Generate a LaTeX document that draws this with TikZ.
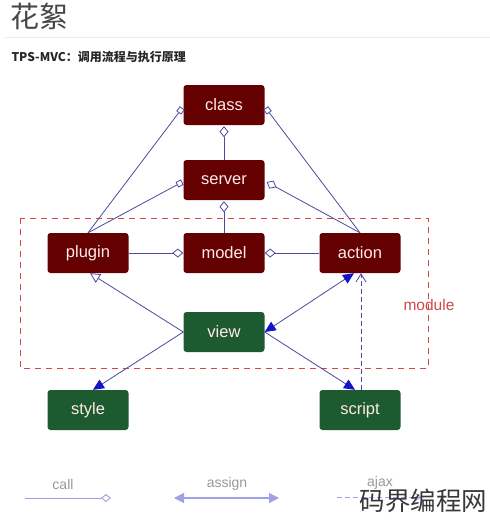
\documentclass[tikz,border=0pt]{standalone}
\usepackage{fontspec}
\setmainfont{Liberation Sans}
\newfontfamily\cjk{Noto Sans CJK SC}
\usetikzlibrary{arrows.meta}
\definecolor{maroon}{HTML}{640000}
\definecolor{dgreen}{HTML}{1D5A2F}
\definecolor{linec}{HTML}{4A4A9E}
\definecolor{tipc}{HTML}{1414C8}
\definecolor{legc}{HTML}{A0A0E6}
\definecolor{modc}{HTML}{D04848}
\tikzset{
  box/.style={minimum width=81pt, minimum height=40pt, rounded corners=3pt, inner sep=0pt,
    text=white!92!red, font=\fontsize{16.5}{16.5}\selectfont},
  redbox/.style={box, fill=maroon},
  greenbox/.style={box, fill=dgreen},
  conn/.style={draw=linec, line width=0.8pt},
  agg/.style={conn, -{Diamond[open, length=11pt, width=9pt, fill=white]}},
  sq/.style={conn, -{Square[open, length=6pt, width=6pt, fill=white]}},
  inh/.style={conn, -{Triangle[open, length=10pt, width=10pt, fill=white]}},
  callarr/.style={conn, -{Triangle[length=11pt, width=10pt, color=tipc]}},
  bothdir/.style={conn, {Triangle[length=11pt, width=10pt, color=tipc]}-{Triangle[length=11pt, width=10pt, color=tipc]}},
  ajaxarr/.style={conn, dashed, dash pattern=on 5pt off 3pt, -{Straight Barb[length=8pt, width=10pt]}},
  legtext/.style={text=black!40, font=\fontsize{14}{14}\selectfont}
}
\begin{document}
\begin{tikzpicture}[x=1pt, y=-1pt]
\useasboundingbox (0,0) rectangle (490,520);
% header
\node[anchor=west, text=black!72, font=\cjk\fontsize{29}{29}\selectfont] (title) at (7,16) {花絮};
\draw[black!7, line width=1pt] (5,37) -- (490,37);
\node[anchor=west, text=black!85, font=\cjk\bfseries\fontsize{12}{12}\selectfont] (sub) at (8,57) {TPS-MVC：调用流程与执行原理};
% module frame
\draw[modc, dashed, dash pattern=on 6pt off 5pt, line width=0.7pt] (20,218) rectangle (428,368);
\node[text=modc, font=\fontsize{15.5}{15.5}\selectfont] (modlabel) at (429,305) {module};
% nodes
\node[redbox] (class) at (224,105) {class};
\node[redbox] (server) at (224,180) {server};
\node[redbox] (plugin) at (88,253) {plugin};
\node[redbox] (model) at (224,253) {model};
\node[redbox] (action) at (360,253) {action};
\node[greenbox] (view) at (224,332) {view};
\node[greenbox] (style) at (88,410) {style};
\node[greenbox] (script) at (360,410) {script};
% connectors
\draw[agg] (server.north) -- ([yshift=-1pt]class.south);
\draw[agg] (model.north) -- ([yshift=-1pt]server.south);
\draw[sq] (plugin.north) -- ([xshift=-1pt,yshift=-3pt]class.west);
\draw[sq] (action.north) -- ([xshift=1pt,yshift=-3pt]class.east);
\draw[sq] (plugin.north) -- ([xshift=-1pt,yshift=-2pt]server.west);
\draw[agg] (action.north) -- ([xshift=2pt,yshift=-2pt]server.east);
\draw[agg] (plugin.east) -- (model.west);
\draw[agg] (action.west) -- (model.east);
\draw[inh] (view.west) -- ([xshift=2pt]plugin.south);
\draw[bothdir] (view.east) -- ([xshift=-6pt]action.south);
\draw[callarr] (view.west) -- ([xshift=5pt]style.north);
\draw[callarr] (view.east) -- ([xshift=-5pt]script.north);
\draw[ajaxarr] ([xshift=1pt]script.north) -- ([xshift=1pt]action.south);
% legend
\coordinate (c1) at (25,498); \coordinate (c2) at (111,498);
\draw[legc, line width=0.9pt, -{Diamond[open, length=10pt, width=8pt, fill=white]}] (c1) -- (c2);
\node[legtext] (lcall) at (63,484) {call};
\coordinate (a1) at (174,498); \coordinate (a2) at (279,498);
\draw[legc, line width=1.2pt, {Triangle[length=10pt, width=10pt]}-{Triangle[length=10pt, width=10pt]}] (a1) -- (a2);
\node[legtext] (lassign) at (227,484) {assign};
\coordinate (j1) at (337,497); \coordinate (j2) at (422,497);
\draw[legc, line width=0.9pt, dashed, dash pattern=on 5pt off 3pt, -{Straight Barb[length=8pt, width=10pt]}] (j1) -- (j2);
\node[legtext] (lajax) at (380,483) {ajax};
% watermark
\node[anchor=east, text=black!78, font=\cjk\fontsize{25.5}{25.5}\selectfont] (wm) at (491,501) {码界编程网};
\end{tikzpicture}
\end{document}
